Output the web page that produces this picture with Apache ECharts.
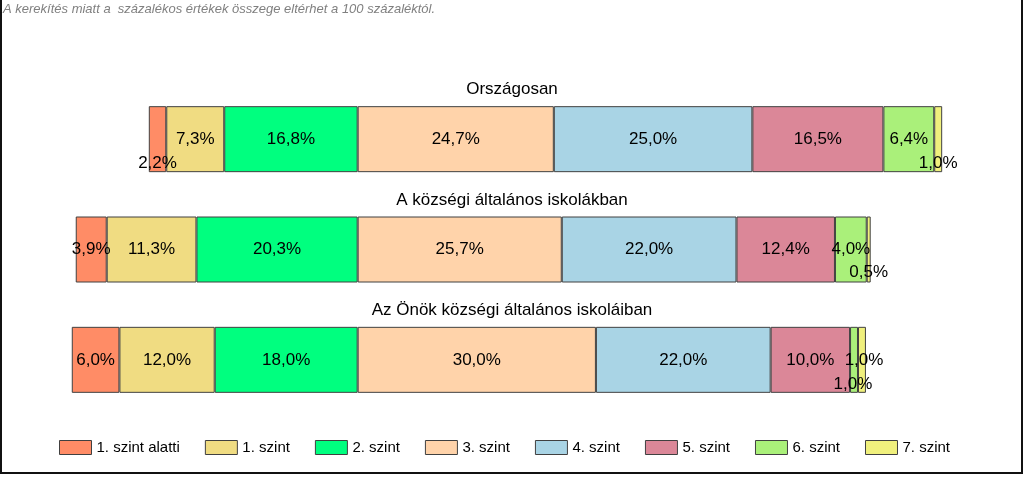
<!DOCTYPE html>
<html>
<head>
<meta charset="utf-8">
<script src="https://cdn.jsdelivr.net/npm/echarts@6/dist/echarts.min.js"></script>
<style>
  html, body { margin: 0; padding: 0; background: #fff; }
  #chart { width: 1024px; height: 478px; }
</style>
</head>
<body>
<div id="chart"></div>
<script>
// adatok
var categories = ["Országosan", "A községi általános iskolákban", "Az Önök községi általános iskoláiban"];
var levels = ["1. szint alatti", "1. szint", "2. szint", "3. szint", "4. szint", "5. szint", "6. szint", "7. szint"];
var szintAlatti = [2.2, 3.9, 6.0];
var szint1 = [7.3, 11.3, 12.0];
var szint2 = [16.8, 20.3, 18.0];
var szint3 = [24.7, 25.7, 30.0];
var szint4 = [25.0, 22.0, 22.0];
var szint5 = [16.5, 12.4, 10.0];
var szint6 = [6.4, 4.0, 1.0];
var szint7 = [1.0, 0.5, 1.0];
var note = "A kerekítés miatt a  százalékos értékek összege eltérhet a 100 százaléktól.";

(function () {
  var myChart = echarts.init(document.getElementById("chart"));
  var values = [szintAlatti, szint1, szint2, szint3, szint4, szint5, szint6, szint7];
  var colors = ["#FF8C66", "#F0DC82", "#00FF7F", "#FFD3AA", "#A9D4E5", "#DB8798", "#AAF07A", "#F0F07D"];
  // a kis szeletek feliratainak eltolása [szint][sor]
  var labelOffset = {
    "0-0": [0, 24],
    "7-0": [0, 24],
    "7-1": [0, 23],
    "6-2": [10, 0],
    "7-2": [-9, 24]
  };

  function fmt(v) {
    return Math.abs(v).toFixed(1).replace(".", ",") + "%";
  }

  function makeSeries(lv) {
    // az első három szint balra (negatív), a többi jobbra
    var sign = lv < 3 ? -1 : 1;
    return {
      name: levels[lv],
      type: "bar",
      stack: "total",
      barWidth: 66,
      itemStyle: {
        color: colors[lv],
        borderColor: "#404040",
        borderWidth: 1
      },
      label: {
        show: true,
        position: "inside",
        color: "#000",
        fontSize: 17,
        fontFamily: "Liberation Sans, Arial, sans-serif",
        formatter: function (p) { return fmt(p.value); }
      },
      data: values[lv].map(function (v, i) {
        var item = { value: sign * v };
        var off = labelOffset[lv + "-" + i];
        if (off) item.label = { offset: off };
        return item;
      })
    };
  }

  // sorrend: a 2. szint legyen a nulla mellett
  var order = [2, 1, 0, 3, 4, 5, 6, 7];
  var series = order.map(makeSeries);

  var titles = [{
    text: note,
    left: 3,
    top: 3,
    padding: 0,
    textStyle: {
      fontSize: 13,
      fontStyle: "italic",
      fontWeight: "normal",
      color: "#808080",
      fontFamily: "Liberation Sans, Arial, sans-serif"
    }
  }];
  var titleTops = [81, 192, 302];
  categories.forEach(function (c, i) {
    titles.push({
      text: c,
      left: "center",
      top: titleTops[i],
      padding: 0,
      textStyle: {
        fontSize: 17,
        fontWeight: "normal",
        color: "#000",
        fontFamily: "Liberation Sans, Arial, sans-serif"
      }
    });
  });

  var option = {
    animation: false,
    backgroundColor: "#fff",
    title: titles,
    legend: {
      data: levels,
      icon: "rect",
      left: 59,
      top: 440,
      padding: 0,
      itemGap: 25,
      itemWidth: 32,
      itemHeight: 14,
      itemStyle: { borderColor: "#404040", borderWidth: 1 },
      textStyle: {
        fontSize: 15,
        color: "#000",
        fontFamily: "Liberation Sans, Arial, sans-serif"
      }
    },
    grid: {
      left: 40,
      right: 31,
      top: 84,
      bottom: 63
    },
    xAxis: {
      type: "value",
      min: -40,
      max: 80,
      show: false
    },
    yAxis: {
      type: "category",
      inverse: true,
      data: categories,
      show: false
    },
    graphic: [
      {
        type: "rect",
        shape: { x: 1, y: -2, width: 1021, height: 475 },
        style: { fill: "none", stroke: "#111", lineWidth: 2 },
        silent: true
      }
    ],
    series: series
  };
  myChart.setOption(option);
  window.addEventListener("resize", function () {
    myChart.resize();
  });
})();
</script>
</body>
</html>
